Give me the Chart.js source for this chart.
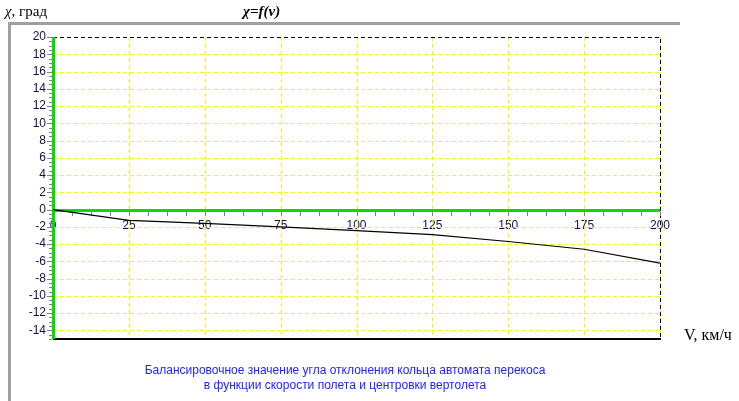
<!DOCTYPE html>
<html>
<head>
<meta charset="utf-8">
<script src="https://cdn.jsdelivr.net/npm/chart.js@4.4.0/dist/chart.umd.min.js"></script>
<style>
    body { margin: 0; background: #fff; }
    #wrap { position: relative; width: 739px; height: 401px; overflow: hidden; }
    #chart { position: absolute; left: 0; top: 0; }
    .lbl { position: absolute; white-space: nowrap; color: #000; }
    #ytitle { left: 5px; top: 3px; font: 15px "Liberation Serif", serif; }
    #ftitle { left: 243px; top: 3px; font: italic bold 15px "Liberation Serif", serif; }
    #xtitle { left: 684px; top: 326px; font: 16px "Liberation Serif", serif; }
    #caption { left: 100px; width: 490px; top: 363px; text-align: center; font: 12px "Liberation Sans", Arial, sans-serif; color: #2222ff; line-height: 15px; }
</style>
</head>
<body>
<div id="wrap">
    <canvas id="chart" width="739" height="401"></canvas>
    <div class="lbl" id="ytitle"><i>χ</i>, град</div>
    <div class="lbl" id="ftitle">χ=f(v)</div>
    <div class="lbl" id="xtitle">V, км/ч</div>
    <div class="lbl" id="caption">Балансировочное значение угла отклонения кольца автомата перекоса<br>в функции скорости полета и центровки вертолета</div>
</div>
<script>
// speed, km/h
const speeds = [0, 25, 50, 75, 100, 125, 150, 175, 200];
// balance angle, deg
const angles = [0, -1.25, -1.6, -2.0, -2.45, -2.9, -3.7, -4.6, -6.2];
const yTicks = [-14, -12, -10, -8, -6, -4, -2, 0, 2, 4, 6, 8, 10, 12, 14, 16, 18, 20];
const xTicks = [0, 25, 50, 75, 100, 125, 150, 175, 200];

const tickFont = { family: '"Liberation Sans", Arial, sans-serif', size: 12 };
const tickColor = '#12124a';
const gridYellow = '#f5f500';

// frame, grid, chart borders, green axes and tick marks
const decorations = {
    id: 'decorations',
    beforeDraw(chart) {
        const ctx = chart.ctx;
        ctx.save();
        ctx.strokeStyle = '#a0a0a0';
        ctx.lineWidth = 3;
        ctx.beginPath();
        ctx.moveTo(9.5, 401);
        ctx.lineTo(9.5, 23.5);
        ctx.lineTo(680, 23.5);
        ctx.stroke();
        ctx.restore();
    },
    beforeDatasetsDraw(chart) {
        const ctx = chart.ctx;
        const a = chart.chartArea;
        const xs = chart.scales.x;
        const ys = chart.scales.y;
        const zeroY = Math.round(ys.getPixelForValue(0));
        ctx.save();
        // yellow grid
        ctx.strokeStyle = gridYellow;
        ctx.lineWidth = 1;
        ctx.setLineDash([4, 3]);
        ctx.beginPath();
        yTicks.forEach(v => {
            const py = Math.round(ys.getPixelForValue(v)) + 0.5;
            ctx.moveTo(a.left, py);
            ctx.lineTo(a.right, py);
        });
        xTicks.forEach(v => {
            const px = Math.round(xs.getPixelForValue(v)) + 0.5;
            ctx.moveTo(px, a.top);
            ctx.lineTo(px, a.bottom);
        });
        ctx.stroke();
        // top + right dashed
        ctx.strokeStyle = '#000';
        ctx.beginPath();
        ctx.moveTo(a.left, a.top + 0.5);
        ctx.lineTo(a.right + 0.5, a.top + 0.5);
        ctx.lineTo(a.right + 0.5, a.bottom);
        ctx.stroke();
        // bottom solid
        ctx.setLineDash([]);
        ctx.lineWidth = 2;
        ctx.beginPath();
        ctx.moveTo(a.left, a.bottom);
        ctx.lineTo(a.right + 1, a.bottom);
        ctx.stroke();
        // green axes
        ctx.strokeStyle = '#00e000';
        ctx.lineWidth = 3;
        ctx.beginPath();
        ctx.moveTo(a.left, zeroY + 0.5);
        ctx.lineTo(a.right, zeroY + 0.5);
        ctx.moveTo(a.left + 0.5, a.top);
        ctx.lineTo(a.left + 0.5, a.bottom);
        ctx.stroke();
        // tick marks
        ctx.strokeStyle = '#808080';
        ctx.lineWidth = 1;
        ctx.beginPath();
        for (let v = -15; v <= 20; v += 0.5) {
            const major = v % 2 === 0;
            const py = Math.round(ys.getPixelForValue(v)) + 0.5;
            ctx.moveTo(a.left - (major ? 6 : 4), py);
            ctx.lineTo(a.left - 1, py);
        }
        for (let v = 6.25; v <= 200; v += 6.25) {
            const px = Math.round(xs.getPixelForValue(v)) + 0.5;
            ctx.moveTo(px, zeroY + 2);
            ctx.lineTo(px, zeroY + 6);
        }
        ctx.stroke();
        ctx.restore();
    }
};

const ctx = document.getElementById('chart').getContext('2d');
new Chart(ctx, {
    type: 'line',
    data: {
        datasets: [{
            data: speeds.map((s, i) => ({ x: s, y: angles[i] })),
            borderColor: '#000',
            borderWidth: 1.2,
            pointRadius: 0,
            tension: 0,
            clip: false
        }]
    },
    options: {
        responsive: false,
        animation: false,
        layout: { padding: { left: 8, top: 37, right: 79, bottom: 62 } },
        plugins: { legend: { display: false }, tooltip: { enabled: false }, title: { display: false } },
        scales: {
            x: {
                type: 'linear',
                position: { y: 0 },
                min: 0,
                max: 200,
                afterBuildTicks: (scale) => { scale.ticks = xTicks.map(v => ({ value: v })); },
                ticks: { font: tickFont, color: tickColor, padding: 9, maxRotation: 0 },
                grid: { display: false, drawTicks: false },
                border: { display: false }
            },
            y: {
                type: 'linear',
                position: 'left',
                min: -15,
                max: 20,
                afterBuildTicks: (scale) => { scale.ticks = yTicks.map(v => ({ value: v })); },
                afterFit: (scale) => { scale.width = 45; },
                ticks: { font: tickFont, color: tickColor, padding: 7 },
                grid: { display: false, drawTicks: false },
                border: { display: false }
            }
        }
    },
    plugins: [decorations]
});
</script>
</body>
</html>
